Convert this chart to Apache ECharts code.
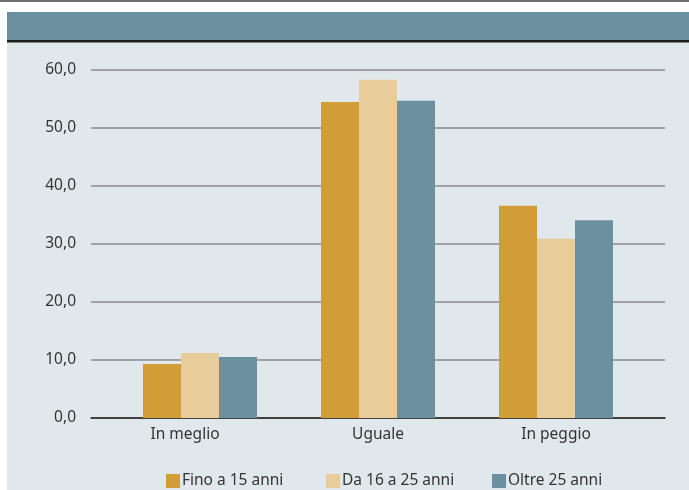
<!DOCTYPE html>
<html>
<head>
<meta charset="utf-8">
<script src="https://cdn.jsdelivr.net/npm/echarts@6/dist/echarts.min.js"></script>
<style>
  html, body { margin: 0; padding: 0; background: #ffffff; }
  #chart { width: 689px; height: 490px; }
</style>
</head>
<body>
<div id="chart"></div>
<script>
// Categories and values per age group (percentages)
const categories = ['In meglio', 'Uguale', 'In peggio'];
const seriesNames = ['Fino a 15 anni', 'Da 16 a 25 anni', 'Oltre 25 anni'];
const fino15 = [9.3, 54.5, 36.6];
const da16a25 = [11.2, 58.3, 30.9];
const oltre25 = [10.5, 54.7, 34.1];
const yTicks = [0, 10, 20, 30, 40, 50, 60];

const colors = ['#d29d37', '#e8cc9a', '#6b909f'];
const fontFamily = '"Noto Sans", "Open Sans", sans-serif';
const textColor = '#333333';
const fontSize = 15.5;

const chart = echarts.init(document.getElementById('chart'), null, { renderer: 'canvas' });
const seriesData = [fino15, da16a25, oltre25];

const yMin = yTicks[0];
const yMax = yTicks[yTicks.length - 1];

// one legend per series so each entry sits at its own spot
const legendLefts = [166, 326, 492];
const legends = seriesNames.map((name, i) => ({
  data: [name],
  left: legendLefts[i],
  top: 473,
  padding: 0,
  itemWidth: 14,
  itemHeight: 14,
  icon: 'rect',
  textStyle: { color: textColor, fontSize: fontSize, fontFamily: fontFamily, padding: [0, 0, 0, -3] }
}));

chart.setOption({
  animation: false,
  backgroundColor: '#ffffff',
  color: colors,
  graphic: [
    // panel background
    { type: 'rect', z: -10, shape: { x: 7, y: 42, width: 682, height: 448 }, style: { fill: '#e1e8ec' } },
    // top thin rule
    { type: 'rect', z: -10, shape: { x: 0, y: 0, width: 689, height: 2 }, style: { fill: '#6e6e6e' } },
    // header band
    { type: 'rect', z: -10, shape: { x: 7, y: 12, width: 682, height: 28 }, style: { fill: '#6b909f' } },
    { type: 'rect', z: -10, shape: { x: 7, y: 40, width: 682, height: 2.5 }, style: { fill: '#1e1e1e' } }
  ],
  legend: legends,
  grid: [
    // frame: value labels, grid lines and the baseline
    { left: 91, right: 24, top: 70, bottom: 72 },
    // bars
    { left: 111, right: 44, top: 70, bottom: 72 }
  ],
  xAxis: [
    {
      gridIndex: 0,
      type: 'category',
      data: categories,
      axisLine: { lineStyle: { color: '#222222', width: 1.5 } },
      axisTick: { show: false },
      axisLabel: { show: false }
    },
    {
      gridIndex: 1,
      type: 'category',
      data: categories,
      axisLine: { show: false },
      axisTick: { show: false },
      axisLabel: {
        color: textColor, fontSize: fontSize, fontFamily: fontFamily, margin: 9,
        formatter: (v, idx) => idx === 0 ? '{first|' + v + '}' : v,
        rich: {
          first: { color: textColor, fontSize: fontSize, fontFamily: fontFamily, padding: [0, 30, 0, 0] }
        }
      }
    }
  ],
  yAxis: [
    {
      gridIndex: 0,
      type: 'value',
      min: yMin,
      max: yMax,
      interval: 10,
      axisLine: { show: false },
      axisTick: { show: false },
      splitLine: { lineStyle: { color: '#8a8a8a', width: 1.5 } },
      axisLabel: {
        color: textColor, fontSize: fontSize, fontFamily: fontFamily, margin: 15,
        formatter: v => v.toFixed(1).replace('.', ',')
      }
    },
    {
      gridIndex: 1,
      type: 'value',
      min: yMin,
      max: yMax,
      interval: 10,
      show: false,
      splitLine: { show: false }
    }
  ],
  series: seriesNames.map((name, i) => ({
    name: name,
    type: 'bar',
    xAxisIndex: 1,
    yAxisIndex: 1,
    data: seriesData[i],
    barWidth: 38,
    barGap: '0%',
    itemStyle: { color: colors[i] }
  }))
});
</script>
</body>
</html>
